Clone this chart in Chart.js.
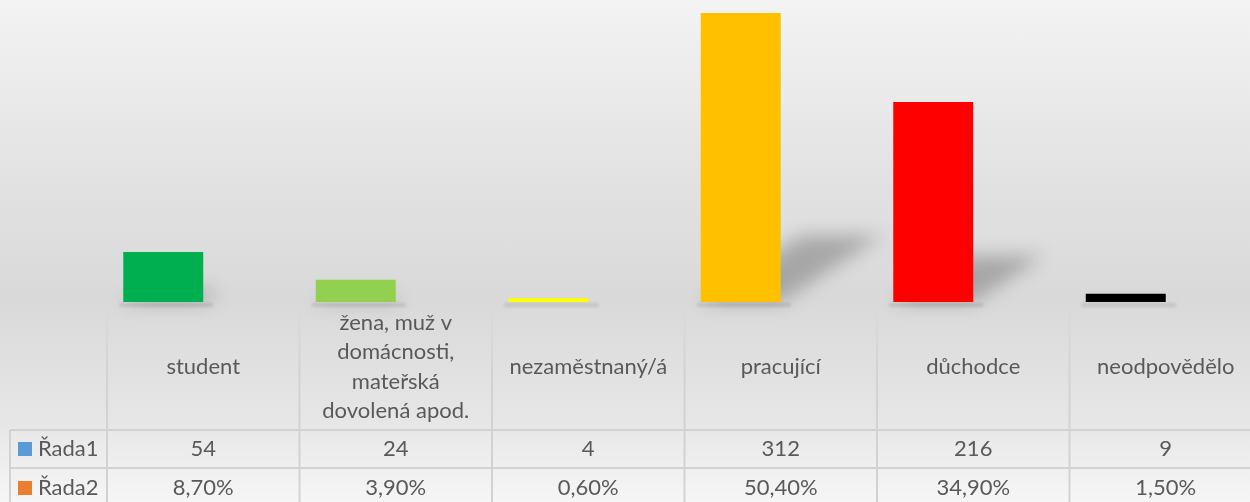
<!DOCTYPE html>
<html>
<head>
<meta charset="utf-8">
<script src="https://cdn.jsdelivr.net/npm/chart.js@4"></script>
<style>
  html, body { margin: 0; padding: 0; overflow: hidden; }
  body {
    width: 1250px; height: 502px;
    background: linear-gradient(to bottom, #f3f3f3 0px, #e2e2e2 180px, #d9d9d9 300px, #e6e6e6 420px, #f6f6f6 502px);
  }
  canvas { display: block; }
</style>
</head>
<body>
<canvas id="c" width="1270" height="502" style="width:1270px;height:502px"></canvas>
<script>
// categories (multi-line ones as arrays, as in the data table header)
const categories = [
  'student',
  ['žena, muž v', 'domácnosti,', 'mateřská', 'dovolená apod.'],
  'nezaměstnaný/á',
  'pracující',
  'důchodce',
  'neodpovědělo',
];
const rada1 = [54, 24, 4, 312, 216, 9];
const rada2 = [0.087, 0.039, 0.006, 0.504, 0.349, 0.015];
const barColours = ['#00b050', '#92d050', '#ffff00', '#ffc000', '#ff0000', '#000000'];
const seriesNames = ['Řada1', 'Řada2'];
const keyColours = ['#5b9bd5', '#ed7d31'];

const TEXT = '#595959';
const GRID = '#d2d2d2';
const FONT = 'Lato, "Open Sans", sans-serif';

const fmtPct = (v) => (v * 100).toFixed(2).replace('.', ',') + '%';

// skewed floor shadow behind each bar
const shadowPlugin = {
  id: 'barShadow',
  beforeDatasetsDraw(chart) {
    const { ctx } = chart;
    const meta = chart.getDatasetMeta(0);
    ctx.save();
    meta.data.forEach((bar) => {
      const l = bar.x - bar.width / 2;
      const r = bar.x + bar.width / 2;
      const h = bar.base - bar.y;
      // thin reflection under the bar
      ctx.filter = 'blur(1.5px)';
      ctx.fillStyle = 'rgba(0,0,0,0.10)';
      ctx.fillRect(l - 4, bar.base + 1, bar.width + 14, 4);
      if (h < 20) return;
      ctx.filter = 'blur(9px)';
      ctx.fillStyle = 'rgba(0,0,0,0.24)';
      ctx.beginPath();
      ctx.moveTo(l, bar.base);
      ctx.lineTo(r, bar.base);
      ctx.lineTo(r + 0.35 * h, bar.base - 0.23 * h);
      ctx.lineTo(l + 0.35 * h, bar.base - 0.23 * h);
      ctx.closePath();
      ctx.fill();
    });
    ctx.restore();
  },
};

// Excel-style data table under the plot
const tablePlugin = {
  id: 'dataTable',
  afterDraw(chart) {
    const { ctx, chartArea } = chart;
    const xs = chart.scales.x;
    const colW = xs.getPixelForValue(1) - xs.getPixelForValue(0);
    const left = chartArea.left;
    const headTop = 308;
    const row1 = 430;
    const row2 = 468;
    const bottom = 506;
    ctx.save();

    // vertical lines, fading in at the top of the header row
    ctx.lineWidth = 2;
    for (let i = 0; i <= categories.length; i++) {
      const x = left + i * colW;
      const g = ctx.createLinearGradient(0, headTop, 0, row1);
      g.addColorStop(0, 'rgba(210,210,210,0)');
      g.addColorStop(0.5, GRID);
      g.addColorStop(1, GRID);
      ctx.strokeStyle = g;
      ctx.beginPath();
      ctx.moveTo(x, headTop);
      ctx.lineTo(x, row1);
      ctx.stroke();
      ctx.strokeStyle = GRID;
      ctx.beginPath();
      ctx.moveTo(x, row1);
      ctx.lineTo(x, bottom);
      ctx.stroke();
    }
    ctx.strokeStyle = GRID;
    ctx.beginPath();
    ctx.moveTo(10, row1); ctx.lineTo(1270, row1);
    ctx.moveTo(10, row2); ctx.lineTo(1270, row2);
    ctx.moveTo(10, bottom); ctx.lineTo(1270, bottom);
    ctx.moveTo(10, row1); ctx.lineTo(10, bottom);
    ctx.stroke();

    ctx.fillStyle = TEXT;
    ctx.font = '22px ' + FONT;
    ctx.textAlign = 'center';
    ctx.textBaseline = 'middle';
    categories.forEach((c, i) => {
      const cx = left + (i + 0.5) * colW;
      const lines = Array.isArray(c) ? c : [c];
      const lh = 29.5;
      const y0 = 367 - ((lines.length - 1) * lh) / 2;
      lines.forEach((t, k) => ctx.fillText(t, cx, y0 + k * lh));
      ctx.fillText(String(rada1[i]), cx, 449);
      ctx.fillText(fmtPct(rada2[i]), cx, 488);
    });

    // row headers with legend keys
    ctx.textAlign = 'left';
    [449, 488].forEach((y, k) => {
      ctx.fillStyle = keyColours[k];
      ctx.fillRect(18, y - 7, 14, 14);
      ctx.fillStyle = TEXT;
      ctx.fillText(seriesNames[k], 38, y);
    });
    ctx.restore();
  },
};

new Chart(document.getElementById('c'), {
  type: 'bar',
  data: {
    labels: categories,
    datasets: [
      { label: seriesNames[0], data: rada1, backgroundColor: barColours, borderWidth: 0 },
      { label: seriesNames[1], data: rada2, backgroundColor: 'rgba(0,0,0,0)', borderWidth: 0 },
    ],
  },
  options: {
    responsive: false,
    animation: false,
    events: [],
    categoryPercentage: 0.831,
    barPercentage: 1,
    layout: { padding: { left: 107, right: 8, top: 0, bottom: 200 } },
    plugins: { legend: { display: false }, tooltip: { enabled: false } },
    scales: {
      x: { display: false },
      y: { display: false, min: 0, max: 326 },
    },
  },
  plugins: [shadowPlugin, tablePlugin],
});
</script>
</body>
</html>
